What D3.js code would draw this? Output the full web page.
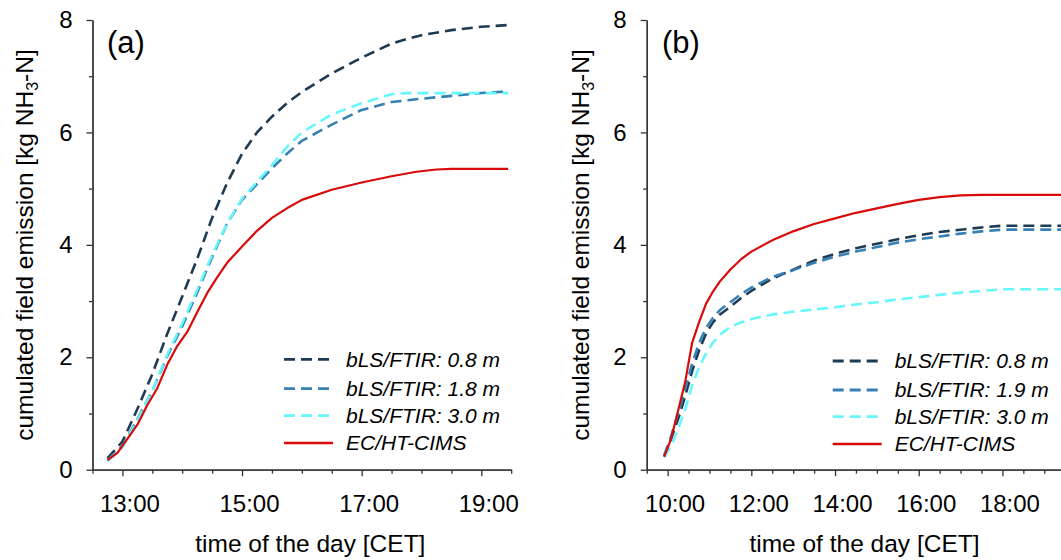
<!DOCTYPE html>
<html><head><meta charset="utf-8">
<script src="https://cdn.jsdelivr.net/npm/d3@7"></script>
<style>
body{margin:0;background:#fff}
svg{display:block}
text{font-family:"Liberation Sans",Arial,sans-serif;fill:#000}
</style>
</head><body>
<svg id="c" width="1061" height="560"></svg>
<script>
// ---------------- DATA ----------------
const legendA = ["bLS/FTIR: 0.8 m","bLS/FTIR: 1.8 m","bLS/FTIR: 3.0 m","EC/HT-CIMS"];
const legendB = ["bLS/FTIR: 0.8 m","bLS/FTIR: 1.9 m","bLS/FTIR: 3.0 m","EC/HT-CIMS"];
const yTicks = [0,2,4,6,8];
const xLabelsA = ["13:00","15:00","17:00","19:00"];
const xLabelsB = ["10:00","12:00","14:00","16:00","18:00"];

// Panel (a)
const timeA_bls = ["12:45","13:00","13:15","13:30","13:45","14:00","14:15","14:30","14:45","15:00","15:15","15:30","15:45","16:00","16:30","17:00","17:30","17:45","18:00","18:30","19:00","19:27"];
const a_bls08 = [0.20,0.50,1.08,1.70,2.42,3.08,3.75,4.48,5.10,5.62,6.00,6.28,6.52,6.72,7.05,7.33,7.58,7.66,7.73,7.82,7.88,7.91];
const a_bls18 = [0.17,0.42,0.90,1.40,2.02,2.55,3.15,3.78,4.38,4.80,5.08,5.36,5.62,5.85,6.14,6.40,6.54,6.57,6.60,6.65,6.70,6.73];
const a_bls30 = [0.15,0.40,0.88,1.40,2.05,2.60,3.20,3.82,4.38,4.82,5.12,5.42,5.74,6.00,6.32,6.52,6.68,6.70,6.70,6.70,6.70,6.70];
const timeA_ec = ["12:45","12:55","13:05","13:15","13:25","13:35","13:45","13:55","14:05","14:15","14:25","14:35","14:45","15:00","15:15","15:30","15:45","16:00","16:30","17:00","17:30","17:55","18:15","18:30","19:00","19:27"];
const a_ec = [0.17,0.30,0.55,0.80,1.15,1.45,1.87,2.20,2.45,2.80,3.14,3.42,3.68,3.97,4.25,4.48,4.65,4.80,4.98,5.11,5.22,5.30,5.34,5.35,5.35,5.35];

// Panel (b)
const timeB = ["09:55","10:05","10:15","10:25","10:35","10:45","10:55","11:05","11:15","11:30","11:45","12:00","12:30","13:00","13:30","14:00","14:30","15:00","15:30","16:00","16:30","17:00","17:30","18:00","19:00","19:27"];
const b_bls08 = [0.23,0.55,0.90,1.30,1.75,2.12,2.42,2.62,2.76,2.90,3.05,3.18,3.40,3.56,3.72,3.84,3.94,4.02,4.10,4.17,4.23,4.27,4.31,4.34,4.34,4.34];
const b_bls19 = [0.25,0.60,1.00,1.42,1.88,2.25,2.52,2.70,2.84,2.98,3.12,3.24,3.43,3.55,3.68,3.79,3.88,3.96,4.04,4.10,4.15,4.20,4.24,4.27,4.27,4.27];
const b_bls30 = [0.22,0.42,0.72,1.07,1.50,1.82,2.07,2.26,2.40,2.54,2.62,2.68,2.76,2.81,2.85,2.89,2.94,2.98,3.03,3.07,3.11,3.15,3.18,3.21,3.21,3.21];
const b_ec    = [0.23,0.55,1.05,1.55,2.25,2.62,2.95,3.17,3.35,3.56,3.74,3.88,4.08,4.24,4.37,4.47,4.57,4.65,4.73,4.80,4.85,4.88,4.89,4.89,4.89,4.89];

// ---------------- STYLE ----------------
const colors = ["#1e3b53","#3680b3","#66f6fb","#d90a0a"];
const dashes = ["11,6","11,6","11,6",null];
const axisColor = "#333";

const toH = s => { const [h,m] = s.split(":").map(Number); return h + m/60; };
const fmtH = h => String(Math.floor(h)).padStart(2,"0") + ":00";

const svg = d3.select("#c");

const panels = [
  { x0: 12.5, x1: 19.5, r0: 92.5, r1: 511.2, labels: xLabelsA, legend: legendA, tag: "(a)",
    tagX: 107, legX: 284, legRows: [359.3,388.6,415.7,443], titleY: 33,
    series: [[timeA_bls,a_bls08],[timeA_bls,a_bls18],[timeA_bls,a_bls30],[timeA_ec,a_ec]] },
  { x0: 9.5, x1: 19.5, r0: 646.7, r1: 1065.2, labels: xLabelsB, legend: legendB, tag: "(b)",
    tagX: 662, legX: 832.7, legRows: [361,390,416.7,444], titleY: 589,
    series: [[timeB,b_bls08],[timeB,b_bls19],[timeB,b_bls30],[timeB,b_ec]] }
];

const y = d3.scaleLinear().domain([0,8]).range([469.7,20]);

panels.forEach(p => {
  const x = d3.scaleLinear().domain([p.x0,p.x1]).range([p.r0,p.r1]);
  const g = svg.append("g");

  // minor x ticks every 30 min
  const halfHours = d3.range(p.x0, p.x1 + 0.001, 0.5);
  const majors = p.labels.map(toH);
  const gxm = g.append("g").attr("transform",`translate(0,${y(0)})`)
    .call(d3.axisBottom(x).tickValues(halfHours.filter(h => !majors.includes(h))).tickSize(4).tickSizeOuter(0).tickFormat(""));
  const gx = g.append("g").attr("transform",`translate(0,${y(0)})`)
    .call(d3.axisBottom(x).tickValues(majors).tickSize(6.5).tickSizeOuter(0).tickPadding(18.5).tickFormat(fmtH));
  gx.selectAll("text").attr("dx",7).style("font-size","24px");

  // y axis
  const gym = g.append("g").attr("transform",`translate(${p.r0},0)`)
    .call(d3.axisLeft(y).tickValues([1,3,5,7]).tickSize(3.5).tickSizeOuter(0).tickFormat(""));
  const gy = g.append("g").attr("transform",`translate(${p.r0},0)`)
    .call(d3.axisLeft(y).tickValues(yTicks).tickSize(6).tickSizeOuter(0).tickPadding(14).tickFormat(d3.format("d")));
  gy.selectAll("text").style("font-size","24px");

  [gxm,gx,gym,gy].forEach(a => {
    a.selectAll("path,line").attr("stroke",axisColor).attr("stroke-width",1.3);
    a.selectAll("text").attr("fill","#000").style("font-family",'"Liberation Sans",Arial,sans-serif');
  });

  // lines
  const line = d3.line().x(d => x(d[0])).y(d => y(d[1]));
  p.series.forEach((s,i) => {
    const pts = s[0].map((t,k) => [toH(t), s[1][k]]);
    g.append("path").datum(pts).attr("d",line)
      .attr("fill","none").attr("stroke",colors[i]).attr("stroke-width", i===3 ? 2.2 : 2.6)
      .attr("stroke-dasharray", dashes[i]).attr("stroke-linejoin","round");
  });

  // legend
  p.legend.forEach((name,i) => {
    const ry = p.legRows[i];
    g.append("line").attr("x1",p.legX).attr("x2",p.legX+49).attr("y1",ry).attr("y2",ry)
      .attr("stroke",colors[i]).attr("stroke-width", i===3 ? 2.6 : 2.8).attr("stroke-dasharray",dashes[i]);
    g.append("text").attr("x",p.legX+62).attr("y",ry).attr("dy","0.35em")
      .style("font-size","21px").style("font-style","italic").text(name);
  });

  // panel tag
  g.append("text").attr("x",p.tagX).attr("y",53).style("font-size","31px").text(p.tag);

  // x title
  g.append("text").attr("x",(p.r0+p.r1)/2 + 8.5).attr("y",552).attr("text-anchor","middle")
    .style("font-size","24.5px").text("time of the day [CET]");

  // y title
  const yt = g.append("text").attr("transform",`translate(${p.titleY},245) rotate(-90)`)
    .attr("text-anchor","middle").style("font-size","24.5px");
  yt.append("tspan").text("cumulated field emission [kg NH");
  yt.append("tspan").attr("dy",5).style("font-size","16px").text("3");
  yt.append("tspan").attr("dy",-5).text("-N]");
});
</script>
</body></html>
